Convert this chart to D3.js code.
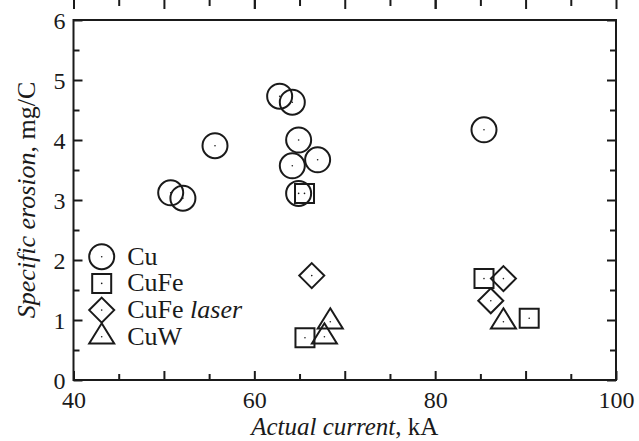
<!DOCTYPE html>
<html>
<head>
<meta charset="utf-8">
<script src="https://cdn.jsdelivr.net/npm/d3@7/dist/d3.min.js"></script>
<style>
  body { margin: 0; background: #fff; }
  text { font-family: "Liberation Serif", "Times New Roman", serif; fill: #1a1a1a; }
</style>
</head>
<body>
<div id="chart"></div>
<script>
// specific erosion vs actual current, four electrode materials
var cu_x = [50.75, 52.1, 55.65, 62.8, 64.2, 64.9, 64.2, 67.0, 64.9, 85.4];
var cu_y = [3.12, 3.03, 3.905, 4.73, 4.63, 4.0, 3.57, 3.67, 3.11, 4.17];
var cufe_x = [65.55, 65.6, 85.4, 90.4];
var cufe_y = [3.11, 0.705, 1.69, 1.03];
var laser_x = [66.35, 86.15, 87.55];
var laser_y = [1.74, 1.32, 1.69];
var cuw_x = [67.75, 68.4, 87.55];
var cuw_y = [0.72, 0.97, 0.97];
var x_ticks = [40, 60, 80, 100];
var y_ticks = [0, 1, 2, 3, 4, 5, 6];
var legend_names = ["Cu", "CuFe", "CuFe laser", "CuW"];

var W = 639, H = 441;
var margin = { top: 20, right: 23, bottom: 61, left: 73.5 };
var ink = "#1a1a1a";

var svg = d3.select("#chart").append("svg")
    .attr("width", W)
    .attr("height", H);

var x = d3.scaleLinear().domain([40, 100]).range([margin.left, W - margin.right]);
var y = d3.scaleLinear().domain([0, 6]).range([H - margin.bottom, margin.top]);

function zip(xs, ys) {
    return xs.map(function (v, i) { return { x: v, y: ys[i] }; });
}

// marker path generators, centred on 0,0
function shape(kind) {
    switch (kind) {
        case 0: return "M12.5,0A12.5,12.5 0 1,1 -12.5,0A12.5,12.5 0 1,1 12.5,0Z";
        case 1: return "M-9.5,-9.5H9.5V9.5H-9.5Z";
        case 2: return "M0,-12.5L12.5,0L0,12.5L-12.5,0Z";
        case 3: return "M0,-13.5L12.5,6.8L-12.5,6.8Z";
    }
}

// axes: major + minor ticks pointing inward on all four sides
function axisLine(gen, scale, vals, size, pos, labels, pad) {
    var a = gen(scale).tickValues(vals).tickSize(-size).tickPadding(pad || 8)
        .tickFormat(labels ? d3.format("d") : "");
    var g = svg.append("g").attr("transform", pos).call(a);
    g.select(".domain").remove();
    g.selectAll(".tick line").attr("stroke", ink).attr("stroke-width", 2);
    return g;
}

var x_minor = d3.range(45, 100, 10);
var y_minor = d3.range(0.5, 6, 1);
var x_major = d3.range(50, 100, 10).concat(x_ticks);
var bottom = "translate(0," + y(0) + ")",
    top = "translate(0," + y(6) + ")",
    left = "translate(" + x(40) + ",0)",
    right = "translate(" + x(100) + ",0)";

var gx = axisLine(d3.axisBottom, x, x_ticks, 9, bottom, true, 6);
axisLine(d3.axisBottom, x, x_major.filter(function (v) { return x_ticks.indexOf(v) < 0; }), 9, bottom, false);
axisLine(d3.axisBottom, x, x_minor, 6, bottom, false);
axisLine(d3.axisTop, x, x_major, 9, top, false);
axisLine(d3.axisTop, x, x_minor, 6, top, false);
var gy = axisLine(d3.axisLeft, y, y_ticks, 9, left, true);
axisLine(d3.axisLeft, y, y_minor, 6, left, false);
axisLine(d3.axisRight, y, y_ticks, 9, right, false);
axisLine(d3.axisRight, y, y_minor, 6, right, false);

gx.selectAll(".tick text").attr("font-size", 24).attr("fill", ink)
    .attr("font-family", "Liberation Serif").attr("dy", "0.9em");
gy.selectAll(".tick text").attr("font-size", 24).attr("fill", ink)
    .attr("font-family", "Liberation Serif").attr("dy", "0.34em");

svg.append("rect")
    .attr("x", x(40)).attr("y", y(6))
    .attr("width", x(100) - x(40)).attr("height", y(0) - y(6))
    .attr("fill", "none").attr("stroke", ink).attr("stroke-width", 2);

// data markers
var series = [zip(cu_x, cu_y), zip(cufe_x, cufe_y), zip(laser_x, laser_y), zip(cuw_x, cuw_y)];
series.forEach(function (pts, k) {
    var g = svg.append("g").selectAll("g")
        .data(pts)
        .enter().append("g")
        .attr("transform", function (d) { return "translate(" + x(d.x) + "," + y(d.y) + ")"; });
    g.append("path")
        .attr("d", shape(k))
        .attr("fill", "none")
        .attr("stroke", ink)
        .attr("stroke-width", 2);
    g.append("circle").attr("r", 0.8).attr("fill", ink);
});

// legend
var legend = svg.append("g").selectAll("g")
    .data(legend_names)
    .enter().append("g")
    .attr("transform", function (d, i) { return "translate(101.7," + (256.7 + i * 26.7) + ")"; });
legend.append("path")
    .attr("d", function (d, i) { return shape(i); })
    .attr("fill", "none").attr("stroke", ink).attr("stroke-width", 2);
legend.append("circle").attr("r", 0.8).attr("fill", ink);
var lt = legend.append("text")
    .attr("x", 25.5)
    .attr("y", 7.8)
    .attr("font-size", 26);
lt.append("tspan").text(function (d) { return d.split(" ")[0]; });
lt.filter(function (d) { return d.indexOf(" ") > 0; })
    .append("tspan").attr("font-style", "italic")
    .text(function (d) { return " " + d.split(" ")[1]; });

// axis titles
var xt = svg.append("text")
    .attr("x", (x(40) + x(100)) / 2)
    .attr("y", 435)
    .attr("font-size", 25)
    .style("text-anchor", "middle");
xt.append("tspan").attr("font-style", "italic").text("Actual current");
xt.append("tspan").text(", kA");

var yt = svg.append("text")
    .attr("transform", "translate(35," + (y(0) + y(6)) / 2 + ") rotate(-90)")
    .attr("font-size", 26)
    .style("text-anchor", "middle");
yt.append("tspan").attr("font-style", "italic").text("Specific erosion");
yt.append("tspan").text(", mg/C");
</script>
</body>
</html>
